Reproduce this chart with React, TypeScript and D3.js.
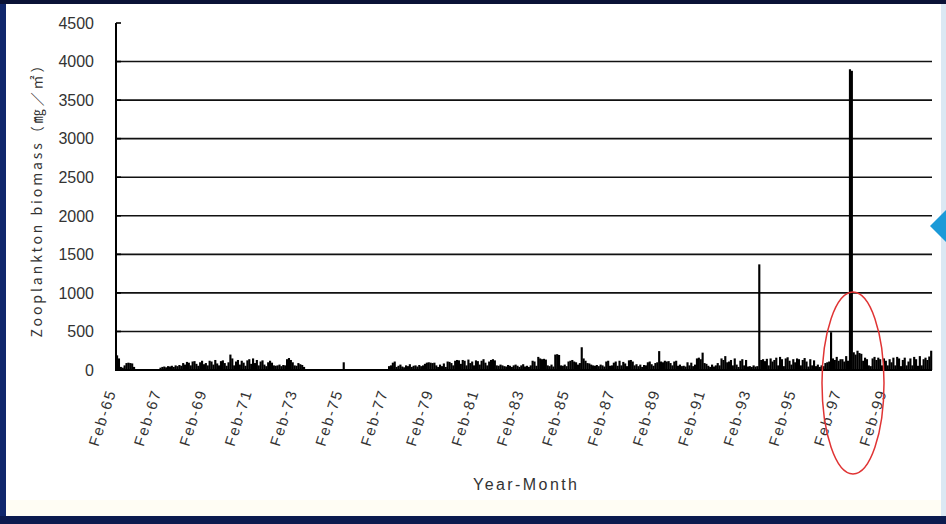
import React from "react";
import * as d3 from "d3";

// Monthly zooplankton biomass (mg/m²), January 1965 – December 2000
const biomass1965to1969 = [
  190, 150, 40, 30, 60, 90, 95, 90, 85, 40, 0, 0,
  0, 0, 0, 0, 0, 0, 0, 0, 0, 0, 0, 30,
  40, 45, 35, 50, 45, 55, 40, 60, 50, 65, 55, 90,
  70, 105, 95, 60, 110, 115, 80, 55, 100, 120, 75, 90,
  60, 120, 110, 70, 130, 85, 60, 115, 125, 90, 55, 100,
];
const biomass1970to1974 = [
  200, 150, 60, 110, 130, 70, 120, 95, 55, 125, 140, 80,
  150, 90, 130, 60, 110, 125, 70, 50, 100, 120, 95, 60,
  55, 60, 70, 50, 65, 60, 140, 155, 130, 100, 60, 55,
  90, 75, 65, 40, 0, 0, 0, 0, 0, 0, 0, 0,
  0, 0, 0, 0, 0, 0, 0, 0, 0, 0, 0, 0,
];
const biomass1975to1979 = [
  100, 0, 0, 0, 0, 0, 0, 0, 0, 0, 0, 0,
  0, 0, 0, 0, 0, 0, 0, 0, 0, 0, 0, 0,
  50, 60, 95, 110, 40, 55, 70, 45, 35, 60, 50, 75,
  40, 55, 60, 45, 65, 50, 60, 80, 95, 100, 95, 90,
  95, 60, 40, 70, 50, 85, 40, 110, 105, 90, 60, 120,
];
const biomass1980to1984 = [
  130, 125, 80, 130, 120, 60, 135, 90, 110, 60, 125, 115,
  70, 120, 140, 95, 60, 110, 130, 140, 125, 60, 55, 70,
  60, 50, 45, 65, 55, 40, 60, 70, 55, 40, 60, 75,
  45, 55, 40, 60, 120, 110, 55, 170, 150, 140, 145, 135,
  60, 50, 70, 45, 200, 205, 195, 60, 55, 70, 50, 110,
];
const biomass1985to1989 = [
  120, 130, 110, 100, 70, 90, 295, 150, 120, 90, 85, 70,
  60, 55, 65, 50, 70, 60, 45, 110, 120, 55, 60, 95,
  110, 55, 120, 60, 105, 85, 50, 125, 130, 110, 60, 75,
  50, 70, 40, 65, 60, 100, 110, 75, 55, 90, 100, 245,
  110, 100, 120, 110, 115, 90, 60, 110, 120, 55, 70, 50,
];
const biomass1990to1994 = [
  55, 45, 100, 60, 95, 50, 70, 150, 160, 140, 225, 90,
  80, 55, 40, 70, 45, 60, 90, 60, 150, 130, 180, 100,
  110, 130, 60, 150, 70, 40, 120, 140, 60, 130, 45, 50,
  40, 60, 45, 50, 1370, 130, 140, 115, 145, 60, 150, 110,
  130, 160, 60, 170, 140, 50, 150, 165, 120, 70, 140, 100,
];
const biomass1995to2000 = [
  150, 140, 60, 130, 155, 110, 45, 140, 60, 125, 50, 70,
  40, 60, 50, 90, 100, 110, 490, 150, 130, 170, 120, 140,
  140, 110, 180, 120, 3900, 3880, 230, 200, 250, 220, 210, 120,
  160, 140, 60, 50, 150, 170, 130, 160, 140, 60, 150, 120,
  60, 140, 100, 160, 60, 170, 150, 50, 130, 160, 60, 110,
  150, 60, 170, 140, 55, 180, 60, 140, 160, 130, 175, 250,
];

const xTickLabels = [
  "Feb-65", "Feb-67", "Feb-69", "Feb-71", "Feb-73", "Feb-75",
  "Feb-77", "Feb-79", "Feb-81", "Feb-83", "Feb-85", "Feb-87",
  "Feb-89", "Feb-91", "Feb-93", "Feb-95", "Feb-97", "Feb-99",
];
const yTickValues = [0, 500, 1000, 1500, 2000, 2500, 3000, 3500, 4000, 4500];

const W = 946;
const H = 524;
const plot = { left: 116, right: 932, top: 23, bottom: 370 };

export default function App() {
  const values = [
    ...biomass1965to1969,
    ...biomass1970to1974,
    ...biomass1975to1979,
    ...biomass1980to1984,
    ...biomass1985to1989,
    ...biomass1990to1994,
    ...biomass1995to2000,
  ];
  const monthIdx = values.map((_, i) => i);

  const x = d3
    .scaleBand<number>()
    .domain(monthIdx)
    .range([plot.left, plot.right])
    .paddingInner(0);
  const y = d3.scaleLinear().domain([0, 4500]).range([plot.bottom, plot.top]);

  const labelMonth = (label: string) => (parseInt(label.slice(4), 10) - 65) * 12 + 1;

  return (
    <div style={{ position: "fixed", left: 0, top: 0, width: W, height: H }}>
      <svg width={W} height={H} style={{ display: "block" }}>
        {/* frame */}
        <rect x={0} y={0} width={W} height={H} fill="#10276c" />
        <rect x={0} y={0} width={W} height={4} fill="#0a1236" />
        <rect x={0} y={516} width={W} height={8} fill="#0b1a4e" />
        <rect x={6} y={4} width={937} height={512} fill="#ffffff" />
        <rect x={6} y={500} width={937} height={16} fill="#fffdf4" />
        <rect x={941} y={4} width={5} height={512} fill="#dbe8f3" />
        <polygon points="930,226 952,204 974,226 952,248" fill="#1b9ad8" />

        {/* gridlines */}
        {yTickValues
          .filter((v) => v > 0 && v < 4500)
          .map((v) => (
            <line
              key={v}
              x1={plot.left}
              x2={plot.right}
              y1={y(v)}
              y2={y(v)}
              stroke="#111"
              strokeWidth={1.6}
            />
          ))}

        {/* bars */}
        {values.map((v, i) =>
          v > 0 ? (
            <rect
              key={i}
              x={x(i)}
              y={y(v)}
              width={x.bandwidth() + 0.25}
              height={plot.bottom - y(v)}
              fill="#000"
            />
          ) : null
        )}

        {/* axes */}
        <line x1={plot.left} x2={plot.left} y1={plot.top} y2={plot.bottom + 1} stroke="#000" strokeWidth={2} />
        <line x1={plot.left} x2={plot.right} y1={plot.bottom} y2={plot.bottom} stroke="#000" strokeWidth={2} />
        {yTickValues.map((v) => (
          <line key={v} x1={plot.left} x2={plot.left + 5} y1={y(v)} y2={y(v)} stroke="#000" strokeWidth={1.6} />
        ))}

        {/* y tick labels */}
        {yTickValues.map((v) => (
          <text
            key={v}
            x={94}
            y={y(v)}
            dy="0.36em"
            textAnchor="end"
            fontFamily="'Liberation Sans', Arial, sans-serif"
            fontSize={16}
            fill="#333"
          >
            {v}
          </text>
        ))}

        {/* x tick labels */}
        {xTickLabels.map((label) => {
          const m = labelMonth(label);
          const cx = (x(m) ?? 0) + x.bandwidth() / 2;
          return (
            <text
              key={label}
              transform={`translate(${cx - 3},${393}) rotate(-72)`}
              textAnchor="end"
              fontFamily="'Liberation Sans', Arial, sans-serif"
              fontSize={15}
              textLength={57}
              lengthAdjust="spacing"
              fill="#333"
            >
              {label}
            </text>
          );
        })}

        {/* axis titles */}
        <text
          transform="translate(36,198) rotate(-90)"
          textAnchor="middle"
          dominantBaseline="central"
          fontFamily="'Noto Sans CJK JP', sans-serif"
          fontSize={14}
          textLength={279}
          lengthAdjust="spacing"
          fill="#333"
        >
          Zooplankton biomass（㎎／㎡）
        </text>
        <text
          x={525}
          y={490}
          textAnchor="middle"
          fontFamily="'Liberation Sans', Arial, sans-serif"
          fontSize={16}
          textLength={104}
          lengthAdjust="spacing"
          fill="#333"
        >
          Year-Month
        </text>

        {/* highlight */}
        <ellipse cx={853} cy={383} rx={31} ry={91} fill="none" stroke="#e03434" strokeWidth={1.5} />
      </svg>
    </div>
  );
}
